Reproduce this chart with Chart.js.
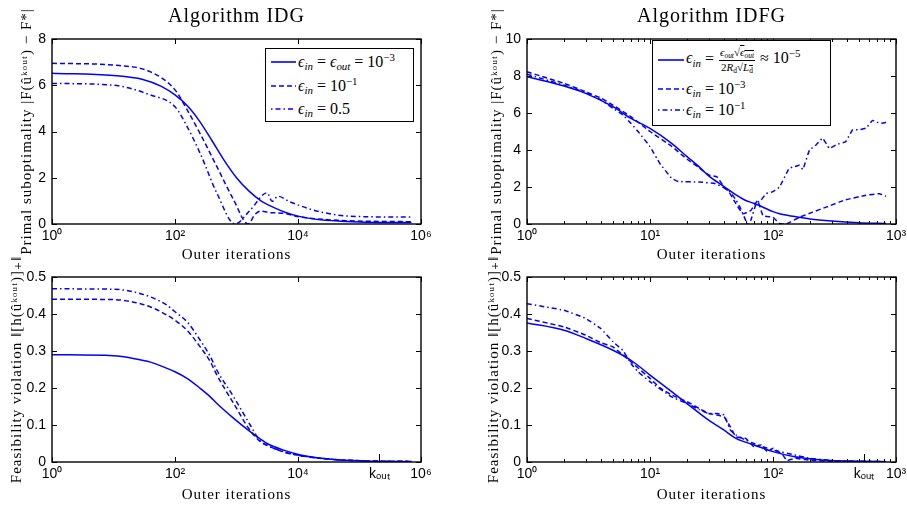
<!DOCTYPE html>
<html>
<head>
<meta charset="utf-8">
<script src="https://cdn.jsdelivr.net/npm/chart.js@4.4.1/dist/chart.umd.min.js"></script>
<style>
  html, body { margin: 0; padding: 0; background: #fff; width: 907px; height: 506px; overflow: hidden; }
  canvas { position: absolute; left: 0; top: 0; }
  .legend { position: absolute; background: #fff; border: 1px solid #000; box-sizing: border-box;
            font-family: 'Liberation Serif', 'DejaVu Serif', serif; font-size: 16px; color: #000; }
  .row { position: absolute; left: 5px; height: 20px; display: flex; align-items: center; white-space: nowrap; }
  .row svg { margin-right: 2px; }
  .eq { margin: 0 4px; }
  sub, sup { font-size: 68%; line-height: 0; }
  sub { vertical-align: -0.3em; }
  sup { vertical-align: 0.55em; }
  .frac { display: inline-flex; flex-direction: column; align-items: center; vertical-align: middle;
          font-size: 11px; line-height: 1.15; margin: 0 5px 0 1px; }
  .frac .num { border-bottom: 1px solid #000; padding: 0 1px 1px; }
  .ov { text-decoration: overline; }
</style>
</head>
<body>
<canvas id="c1" width="940" height="506"></canvas>
<canvas id="c2" width="940" height="506"></canvas>
<canvas id="c3" width="940" height="506"></canvas>
<canvas id="c4" width="940" height="506"></canvas>

<div class="legend" style="left:265px;top:48px;width:149px;height:74px">
  <div class="row" style="top:3px"><svg width="25" height="4"><line x1="0" y1="2" x2="25" y2="2" stroke="#0000ff" stroke-width="1.6"/></svg><span><i>ϵ</i><sub><i>in</i></sub><span class="eq">=</span><i>ϵ</i><sub><i>out</i></sub><span class="eq">=</span>10<sup>−3</sup></span></div>
  <div class="row" style="top:27px"><svg width="25" height="4"><line x1="0" y1="2" x2="25" y2="2" stroke="#0000ff" stroke-width="1.6" stroke-dasharray="5,3"/></svg><span><i>ϵ</i><sub><i>in</i></sub><span class="eq">=</span>10<sup>−1</sup></span></div>
  <div class="row" style="top:50px"><svg width="25" height="4"><line x1="0" y1="2" x2="25" y2="2" stroke="#0000ff" stroke-width="1.6" stroke-dasharray="1.5,3,5,3"/></svg><span><i>ϵ</i><sub><i>in</i></sub><span class="eq">=</span>0.5</span></div>
</div>

<div class="legend" style="left:652px;top:40px;width:179px;height:86px">
  <div class="row" style="top:3px;height:32px"><svg width="26" height="4"><line x1="0" y1="2" x2="26" y2="2" stroke="#0000ff" stroke-width="1.6"/></svg><span><i>ϵ</i><sub><i>in</i></sub><span class="eq">=</span><span class="frac"><span class="num"><i>ϵ</i><sub><i>out</i></sub>√<span class="ov"><i>ϵ</i><sub><i>out</i></sub></span></span><span class="den">2<i>R</i><sub>d</sub>√<span class="ov"><i>L</i><sub>d</sub></span></span></span>≈ 10<sup>−5</sup></span></div>
  <div class="row" style="top:38px"><svg width="26" height="4"><line x1="0" y1="2" x2="26" y2="2" stroke="#0000ff" stroke-width="1.6" stroke-dasharray="5,3"/></svg><span><i>ϵ</i><sub><i>in</i></sub><span class="eq">=</span>10<sup>−3</sup></span></div>
  <div class="row" style="top:59px"><svg width="26" height="4"><line x1="0" y1="2" x2="26" y2="2" stroke="#0000ff" stroke-width="1.6" stroke-dasharray="1.5,3,5,3"/></svg><span><i>ϵ</i><sub><i>in</i></sub><span class="eq">=</span>10<sup>−1</sup></span></div>
</div>

<script>
// ---- axis ticks ----
const idgTicks = [1, 100, 1e4, 1e6];
const idgTickLabels = ['10⁰', '10²', '10⁴', '10⁶'];
const idgTickLabelsK = ['10⁰', '10²', '10⁴', 'kₒᵤₜ', '10⁶'];
const idfgTicks = [1, 10, 100, 1000];
const idfgTickLabels = ['10⁰', '10¹', '10²', '10³'];
const idfgTickLabelsK = ['10⁰', '10¹', '10²', 'kₒᵤₜ', '10³'];
const idfgMinor = [2, 3, 4, 5, 6, 7, 8, 9, 20, 30, 40, 50, 60, 70, 80, 90, 200, 300, 400, 500, 600, 700, 800, 900];
const koutIdg = 2.1e5;
const koutIdfg = 550;

// ---- Algorithm IDG, primal suboptimality ----
const pIdgSolidX = [1, 10, 30, 60, 100, 160, 250, 400, 630, 1000, 1600, 2500, 4000, 6300, 1e4, 2e4, 5e4, 1.3e5, 7e5];
const pIdgSolidY = [6.52, 6.42, 6.25, 5.95, 5.58, 5.1, 4.45, 3.6, 2.75, 2.0, 1.42, 1.0, 0.72, 0.5, 0.34, 0.2, 0.12, 0.08, 0.06];
const pIdgDashX = [1, 10, 40, 100, 158, 257, 480, 900, 1540, 2000, 2500, 3300, 5800, 1.1e4, 3.8e4, 1.3e5, 7e5];
const pIdgDashY = [6.95, 6.87, 6.58, 5.8, 4.93, 3.9, 2.48, 1.04, 0.0, 0.42, 0.56, 0.5, 0.46, 0.3, 0.17, 0.12, 0.1];
const pIdgDotX = [1, 10, 40, 100, 158, 257, 480, 950, 1670, 3150, 3800, 4700, 7400, 1.8e4, 4.3e4, 1e5, 7e5];
const pIdgDotY = [6.08, 6.0, 5.58, 5.07, 4.2, 3.05, 1.33, 0.0, 0.6, 1.35, 0.98, 1.2, 0.96, 0.6, 0.39, 0.32, 0.3];

// ---- Algorithm IDFG, primal suboptimality ----
const pIdfgSolidX = [1, 2, 3, 5, 7, 10, 15, 20, 25, 30, 40, 50, 60, 70, 100, 113, 150, 200, 300, 500, 830];
const pIdfgSolidY = [7.96, 7.46, 7.06, 6.34, 5.71, 5.17, 4.36, 3.64, 3.1, 2.6, 2.02, 1.57, 1.27, 1.12, 0.67, 0.55, 0.4, 0.27, 0.16, 0.07, 0.03];
const pIdfgDashX = [1, 2, 3, 4, 5, 7, 10, 15, 20, 25, 30, 35, 40, 44, 50, 57, 66, 75, 83, 100, 113, 128, 164, 210, 270, 390, 570, 730, 830];
const pIdfgDashY = [8.23, 7.6, 7.15, 6.8, 6.43, 5.8, 5.0, 4.2, 3.5, 3.05, 2.65, 2.55, 2.0, 1.72, 1.09, 0.55, 0.73, 1.27, 0.45, 0.36, 0.03, 0.0, 0.36, 0.64, 0.91, 1.31, 1.55, 1.64, 1.5];
const pIdfgDotX = [1, 2, 3, 4, 5, 6, 7, 8, 10, 12, 15, 17, 25, 34, 40, 44, 50, 54, 62, 66, 73, 80, 88, 100, 113, 135, 150, 164, 175, 198, 224, 253, 287, 330, 390, 443, 500, 570, 645, 700, 775, 830];
const pIdfgDotY = [8.1, 7.5, 7.1, 6.7, 6.25, 5.9, 5.44, 5.0, 4.18, 3.28, 2.47, 2.3, 2.27, 2.18, 1.95, 1.8, 1.3, 0.9, 0.0, 0.2, 1.1, 1.3, 1.64, 1.75, 2.0, 3.0, 3.1, 3.18, 2.95, 4.0, 4.27, 4.64, 4.09, 4.3, 4.45, 5.09, 5.1, 5.18, 5.6, 5.5, 5.45, 5.5];

// ---- Algorithm IDG, feasibility violation ----
const fIdgX = [1, 10, 21, 40, 74, 100, 157, 257, 375, 480, 900, 1670, 2450, 3150, 5850, 1.1e4, 3.8e4, 1.3e5, 7e5];
const fIdgSolidY = [0.29, 0.287, 0.28, 0.27, 0.253, 0.244, 0.226, 0.199, 0.176, 0.158, 0.118, 0.082, 0.062, 0.05, 0.032, 0.019, 0.007, 0.003, 0.001];
const fIdgDashY = [0.44, 0.439, 0.432, 0.419, 0.397, 0.383, 0.356, 0.311, 0.271, 0.235, 0.158, 0.085, 0.055, 0.045, 0.027, 0.017, 0.007, 0.003, 0.002];
const fIdgDotY = [0.468, 0.467, 0.46, 0.446, 0.424, 0.406, 0.379, 0.329, 0.285, 0.248, 0.176, 0.1, 0.056, 0.045, 0.028, 0.017, 0.007, 0.003, 0.002];

// ---- Algorithm IDFG, feasibility violation ----
const fIdfgSolidX = [1, 2, 3, 5, 7, 10, 15, 20, 30, 40, 50, 70, 100, 150, 200, 300, 500, 830];
const fIdfgSolidY = [0.376, 0.356, 0.334, 0.302, 0.275, 0.235, 0.19, 0.158, 0.113, 0.086, 0.064, 0.046, 0.028, 0.014, 0.009, 0.004, 0.002, 0.001];
const fIdfgDashX = [1, 2, 3, 4, 5, 7, 10, 12, 15, 20, 25, 30, 35, 40, 45, 50, 60, 70, 80, 90, 100, 120, 130, 150, 200, 300, 830];
const fIdfgDashY = [0.388, 0.365, 0.343, 0.322, 0.311, 0.271, 0.226, 0.201, 0.181, 0.163, 0.145, 0.131, 0.127, 0.122, 0.095, 0.068, 0.064, 0.041, 0.046, 0.028, 0.037, 0.019, 0.004, 0.01, 0.005, 0.002, 0.001];
const fIdfgDotX = [1, 2, 3, 4, 5, 6, 7, 8, 10, 15, 20, 25, 30, 35, 40, 45, 50, 60, 70, 90, 100, 150, 200, 300, 830];
const fIdfgDotY = [0.428, 0.41, 0.388, 0.36, 0.325, 0.302, 0.266, 0.244, 0.217, 0.176, 0.158, 0.142, 0.131, 0.131, 0.127, 0.086, 0.073, 0.059, 0.05, 0.037, 0.032, 0.019, 0.01, 0.004, 0.001];

const BLUE = '#0000ff';
const SANS = "'Liberation Sans', Arial, Helvetica, sans-serif";
const SERIF = "'Liberation Serif', 'DejaVu Serif', 'Times New Roman', serif";
const DASH = [5, 3];
const DASHDOT = [5, 3, 1.5, 3];

// matlab-ish box with inward ticks
const framePlugin = {
  id: 'frame',
  afterDraw(chart, args, o) {
    const ctx = chart.ctx, a = chart.chartArea;
    const xs = chart.scales.x, ys = chart.scales.y;
    const seg = (x1, y1, x2, y2) => { ctx.beginPath(); ctx.moveTo(x1, y1); ctx.lineTo(x2, y2); ctx.stroke(); };
    ctx.save();
    ctx.strokeStyle = '#000';
    ctx.lineWidth = 1;
    o.major.forEach(v => {
      const p = Math.round(xs.getPixelForValue(v)) + 0.5;
      seg(p, a.bottom, p, a.bottom - 5); seg(p, a.top, p, a.top + 5);
    });
    (o.minor || []).forEach(v => {
      const p = Math.round(xs.getPixelForValue(v)) + 0.5;
      seg(p, a.bottom, p, a.bottom - 3); seg(p, a.top, p, a.top + 3);
    });
    if (o.kout) {
      const p = Math.round(xs.getPixelForValue(o.kout)) + 0.5;
      seg(p, a.bottom, p, a.bottom - 8);
    }
    ys.ticks.forEach(t => {
      const p = Math.round(ys.getPixelForValue(t.value)) + 0.5;
      seg(a.left, p, a.left + 5, p); seg(a.right, p, a.right - 5, p);
    });
    ctx.lineWidth = 1.4;
    ctx.strokeRect(a.left, a.top, a.right - a.left, a.bottom - a.top);
    ctx.restore();
  }
};

// the serif titles are drawn a bit letter-spaced, like the latex output
function spaced(obj, name, sp) {
  if (obj['_sp_' + name]) return;
  const orig = obj[name];
  obj[name] = function (...args) {
    const c = this.ctx;
    const prev = c.letterSpacing;
    c.letterSpacing = sp;
    orig.apply(this, args);
    c.letterSpacing = prev;
  };
  obj['_sp_' + name] = true;
}
const spacingPlugin = {
  id: 'spacing',
  afterLayout(chart) {
    spaced(chart.scales.x, 'drawTitle', '1px');
    spaced(chart.scales.y, 'drawTitle', '1px');
    if (chart.titleBlock) spaced(chart.titleBlock, 'draw', '1px');
  }
};

function line(xs, ys, dash, smooth) {
  return {
    data: xs.map((v, i) => ({x: v, y: ys[i]})),
    borderColor: BLUE,
    borderWidth: 1.5,
    borderDash: dash,
    pointRadius: 0,
    fill: false,
    cubicInterpolationMode: smooth ? 'monotone' : 'default',
    tension: smooth ? 0.4 : 0.1
  };
}

function makePanel(id, area, o) {
  const W = 940, H = 506;
  const yLh = 15 * 1.2, xLh = 15 * 1.2;
  const yw = area.l - o.yTitleX + yLh / 2 + 2;
  const xh = o.xTitleY - area.b + xLh / 2 + 2;
  const topPad = o.title ? 5 : area.t;
  const tickVals = o.ticks.concat(o.kout ? [o.kout] : []).sort((p, q) => p - q);
  return new Chart(document.getElementById(id), {
    type: 'line',
    data: {datasets: o.series},
    options: {
      responsive: false,
      animation: false,
      events: [],
      layout: {padding: {left: area.l - yw, right: W - area.r, top: topPad, bottom: H - area.b - xh}},
      plugins: {
        legend: {display: false},
        tooltip: {enabled: false},
        title: {
          display: !!o.title, text: o.title || '', fullSize: false, color: '#000',
          font: {family: SERIF, size: 20, weight: 'normal', lineHeight: 1.2},
          padding: {top: 0, bottom: area.t - topPad - 20 * 1.2}
        },
        frame: {major: o.ticks, minor: o.minor, kout: o.kout}
      },
      scales: {
        x: {
          type: 'logarithmic', min: o.xMin, max: o.xMax,
          afterBuildTicks: s => { s.ticks = tickVals.map(v => ({value: v})); },
          afterFit: s => { s.height = xh; },
          grid: {display: false, drawTicks: false},
          border: {display: false},
          ticks: {
            autoSkip: false, maxRotation: 0, minRotation: 0, padding: 4, color: '#000',
            font: {family: SANS, size: 14},
            callback: (v, i) => o.tickLabels[i]
          },
          title: {display: true, text: 'Outer iterations', color: '#000',
                  font: {family: SERIF, size: 15}, padding: {top: 0, bottom: 2}}
        },
        y: {
          min: 0, max: o.yMax,
          afterFit: s => { s.width = yw; },
          grid: {display: false, drawTicks: false},
          border: {display: false},
          ticks: {stepSize: o.yStep, padding: 6, color: '#000', font: {family: SANS, size: 14}},
          title: {display: true, text: o.yTitle, color: '#000',
                  font: {family: SERIF, size: 15}, padding: {top: 2, bottom: 0}}
        }
      }
    },
    plugins: [spacingPlugin, framePlugin]
  });
}

const primalTitle = 'Primal suboptimality |F(ûᵏᵒᵘᵗ) − F*|';
const feasTitle = 'Feasibility violation ‖[h(ûᵏᵒᵘᵗ)]₊‖';

makePanel('c1', {l: 52, t: 39, r: 421, b: 224}, {
  title: 'Algorithm IDG', yTitle: primalTitle, yTitleX: 27, xTitleY: 255,
  xMin: 1, xMax: 1e6, ticks: idgTicks, tickLabels: idgTickLabels, yMax: 8, yStep: 2,
  series: [line(pIdgSolidX, pIdgSolidY, [], true), line(pIdgDashX, pIdgDashY, DASH, true), line(pIdgDotX, pIdgDotY, DASHDOT, true)]
});
makePanel('c2', {l: 527, t: 39, r: 896, b: 224}, {
  title: 'Algorithm IDFG', yTitle: primalTitle, yTitleX: 497, xTitleY: 255,
  xMin: 1, xMax: 1000, ticks: idfgTicks, minor: idfgMinor, tickLabels: idfgTickLabels, yMax: 10, yStep: 2,
  series: [line(pIdfgSolidX, pIdfgSolidY, [], true), line(pIdfgDashX, pIdfgDashY, DASH, false), line(pIdfgDotX, pIdfgDotY, DASHDOT, false)]
});
makePanel('c3', {l: 52, t: 277, r: 421, b: 462}, {
  yTitle: feasTitle, yTitleX: 17, xTitleY: 495,
  xMin: 1, xMax: 1e6, ticks: idgTicks, kout: koutIdg, tickLabels: idgTickLabelsK, yMax: 0.5, yStep: 0.1,
  series: [line(fIdgX, fIdgSolidY, [], true), line(fIdgX, fIdgDashY, DASH, true), line(fIdgX, fIdgDotY, DASHDOT, true)]
});
makePanel('c4', {l: 527, t: 277, r: 896, b: 462}, {
  yTitle: feasTitle, yTitleX: 494, xTitleY: 495,
  xMin: 1, xMax: 1000, ticks: idfgTicks, minor: idfgMinor, kout: koutIdfg, tickLabels: idfgTickLabelsK, yMax: 0.5, yStep: 0.1,
  series: [line(fIdfgSolidX, fIdfgSolidY, [], true), line(fIdfgDashX, fIdfgDashY, DASH, false), line(fIdfgDotX, fIdfgDotY, DASHDOT, false)]
});
</script>
</body>
</html>
